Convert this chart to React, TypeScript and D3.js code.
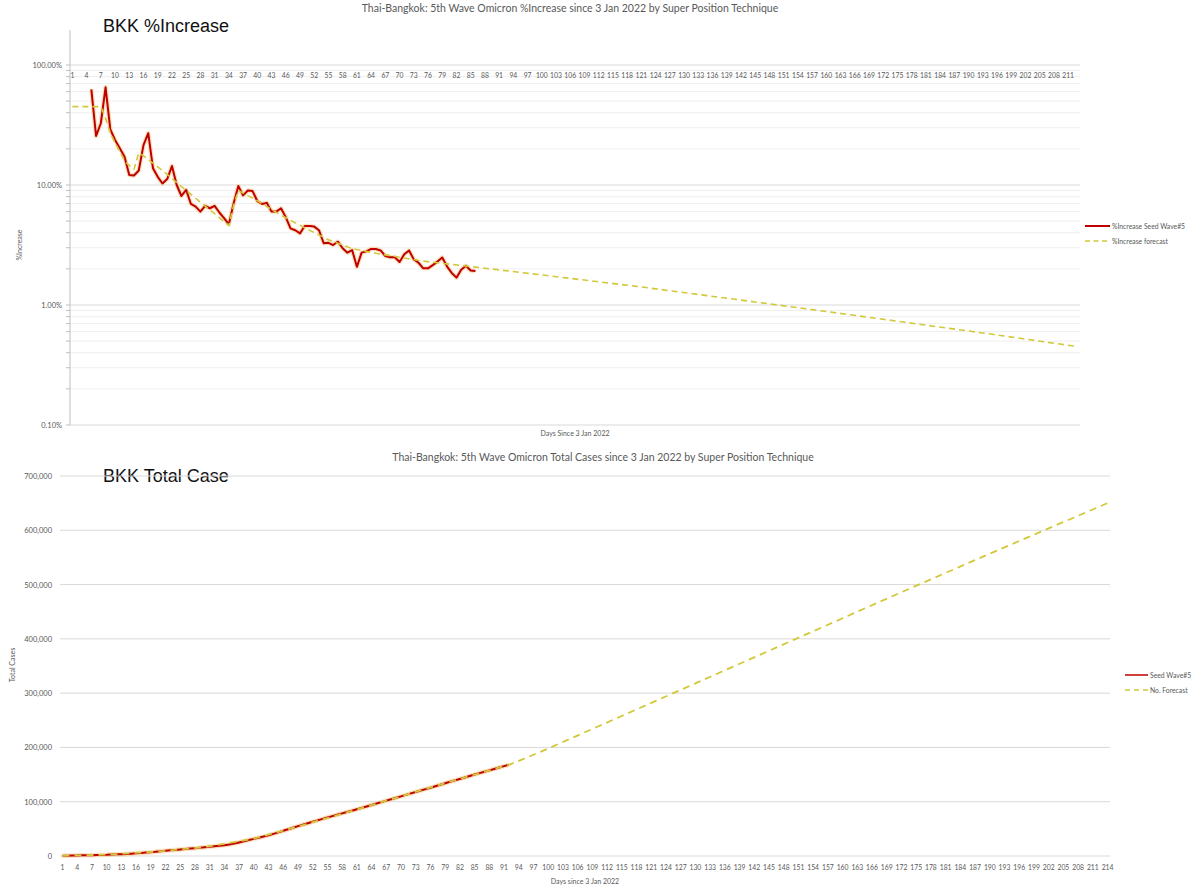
import React from "react";
import * as d3 from "d3";

// ---------- Top chart data (%Increase) ----------
const pctDays = d3.range(5, 87);
const pctValues = [
  62.7, 25.6, 32.7, 65.2, 29.1, 23.7, 20.2, 17.2, 12.1, 12.0,
  13.2, 21.5, 27.0, 13.8, 11.7, 10.3, 11.2, 14.4, 10.0, 8.1,
  9.1, 6.95, 6.6, 6.0, 6.7, 6.4, 6.7, 5.9, 5.3, 4.7,
  7.0, 9.8, 8.2, 9.0, 8.9, 7.35, 6.95, 7.1, 6.0, 6.0,
  6.4, 5.4, 4.35, 4.2, 3.95, 4.55, 4.55, 4.5, 4.2, 3.27,
  3.3, 3.16, 3.37, 2.97, 2.73, 2.87, 2.08, 2.73, 2.8, 2.93,
  2.93, 2.85, 2.56, 2.5, 2.5, 2.28, 2.65, 2.85, 2.4, 2.25,
  2.02, 2.02, 2.15, 2.3, 2.49, 2.1, 1.85, 1.69, 1.97, 2.12,
  1.94, 1.92,
];
const pctForecastDays = [1, 7, 8, 9, 10, 11, 12, 13, 14, 15, 16, 20, 25, 30, 34, 35, 36, 40, 45, 50, 55, 60, 65, 70, 75, 80, 86, 100, 120, 145, 170, 195, 213];
const pctForecastValues = [45, 45, 36, 27, 22.5, 19, 16, 14.5, 13.5, 18.5, 17.5, 13.2, 9.0, 6.2, 4.6, 6.8, 9.0, 7.4, 5.6, 4.4, 3.5, 2.95, 2.7, 2.5, 2.32, 2.2, 2.07, 1.78, 1.43, 1.06, 0.78, 0.57, 0.45];
const pctTickDays = d3.range(1, 212, 3);
const pctMajorTicks = [0.1, 1, 10, 100];
const pctTickLabels = ["0.10%", "1.00%", "10.00%", "100.00%"];

// ---------- Bottom chart data (Total cases) ----------
const caseDays = d3.range(1, 93);
const caseValuesK = [
  0.3, 0.5, 0.7, 1.0, 1.2, 1.4, 1.6, 1.8, 2.0, 2.2,
  2.6, 3.0, 3.4, 3.8, 4.3, 4.9, 5.6, 6.3, 7.0, 7.8,
  8.6, 9.5, 10.4, 11.2, 12.0, 12.8, 13.6, 14.4, 15.3, 16.2,
  17.1, 18.0, 18.9, 19.8, 21.2, 23.0, 25.0, 27.2, 29.4, 31.5,
  33.6, 35.8, 38.0, 40.8, 43.6, 46.4, 49.2, 52.0, 55.0, 57.6,
  60.3, 63.0, 65.7, 68.4, 71.0, 73.5, 76.0, 78.5, 81.0, 83.5,
  86.0, 88.6, 91.2, 93.9, 96.6, 99.3, 102.0, 104.6, 107.2, 109.9,
  112.6, 115.4, 118.0, 120.6, 123.2, 125.8, 128.5, 131.2, 134.0, 136.8,
  139.4, 142.0, 144.6, 147.3, 150.0, 152.6, 155.2, 157.8, 160.4, 163.0,
  165.5, 168.0,
];
const caseForecastDays = [1, 10, 20, 30, 40, 50, 60, 70, 80, 92, 95, 100, 110, 120, 130, 150, 170, 190, 214];
const caseForecastValuesK = [0.5, 2.4, 8.0, 16.3, 31.8, 57.0, 83.0, 110.0, 137.0, 168.0, 179.0, 198.0, 238.0, 278.0, 318.0, 398.0, 478.0, 557.0, 650.0];
const caseTickDays = d3.range(1, 215, 3);
const caseYTicks = [0, 100000, 200000, 300000, 400000, 500000, 600000, 700000];

const RED = "#c00000";
const YEL = "#d3c83a";
const TXT = "#595959";
const FONT = "Lato, 'Open Sans', sans-serif";

export default function App() {
  // top scales
  const xT = d3.scaleLinear().domain([0.5, 213.5]).range([70, 1080]);
  const yT = d3.scaleLog().domain([0.1, 100]).range([425, 65]);
  // bottom scales
  const xB = d3.scaleLinear().domain([0.5, 214.5]).range([60, 1110]);
  const yB = d3.scaleLinear().domain([0, 700000]).range([856, 476]);

  const minorVals: number[] = [];
  [0.1, 1, 10].forEach((dec) => {
    for (let k = 2; k <= 9; k++) minorVals.push(dec * k);
  });

  const lineT = d3.line<[number, number]>().x((d) => xT(d[0])).y((d) => yT(d[1]));
  const lineB = d3.line<[number, number]>().x((d) => xB(d[0])).y((d) => yB(d[1]));

  const pctData: [number, number][] = pctDays.map((d, i) => [d, pctValues[i]]);
  const pctFc: [number, number][] = pctForecastDays.map((d, i) => [d, pctForecastValues[i]]);
  const caseData: [number, number][] = caseDays.map((d, i) => [d, caseValuesK[i] * 1000]);
  const caseFc: [number, number][] = caseForecastDays.map((d, i) => [d, caseForecastValuesK[i] * 1000]);

  const fmt = d3.format(",");

  return (
    <svg width={1200} height={890} style={{ position: "absolute", left: 0, top: 0, background: "#fff" }} fontFamily={FONT}>
      <rect x={0} y={0} width={1200} height={890} fill="#fff" />

      {/* ===== TOP CHART ===== */}
      <text x={570} y={12} textAnchor="middle" fontSize={10.5} fill={TXT}>
        Thai-Bangkok: 5th Wave Omicron %Increase since 3 Jan 2022 by Super Position Technique
      </text>
      <text x={103} y={32} fontSize={18} fill="#111" fontFamily="'Liberation Sans', Arial, sans-serif">BKK %Increase</text>

      {/* minor gridlines */}
      {minorVals.map((v) => (
        <g key={"mn" + v}>
          <line x1={70} x2={1080} y1={yT(v)} y2={yT(v)} stroke="#efefef" strokeWidth={1} />
          <line x1={66} x2={70} y1={yT(v)} y2={yT(v)} stroke="#bfbfbf" strokeWidth={1} />
        </g>
      ))}
      {pctMajorTicks.map((v, i) => (
        <g key={"mj" + v}>
          <line x1={70} x2={1080} y1={yT(v)} y2={yT(v)} stroke="#d9d9d9" strokeWidth={1} />
          <line x1={66} x2={70} y1={yT(v)} y2={yT(v)} stroke="#bfbfbf" strokeWidth={1} />
          <text x={62} y={yT(v) + 3} textAnchor="end" fontSize={7.5} fill={TXT}>{pctTickLabels[i]}</text>
        </g>
      ))}
      <line x1={70} x2={70} y1={30} y2={425} stroke="#bfbfbf" strokeWidth={1} />
      {pctTickDays.map((d) => (
        <text key={"tx" + d} x={xT(d)} y={78} textAnchor="middle" fontSize={6.8} fill={TXT}>{d}</text>
      ))}
      <text x={575} y={436} textAnchor="middle" fontSize={7} fill={TXT}>Days Since 3 Jan 2022</text>
      <text transform={`translate(22,245) rotate(-90)`} textAnchor="middle" fontSize={7} fill={TXT}>%Increase</text>

      <path d={lineT(pctData) || ""} fill="none" stroke="#f6c88a" strokeWidth={4.5} strokeOpacity={0.55} strokeLinejoin="round" />
      <path d={lineT(pctData) || ""} fill="none" stroke={RED} strokeWidth={2} strokeLinejoin="round" />
      <path d={lineT(pctFc) || ""} fill="none" stroke={YEL} strokeWidth={1.6} strokeDasharray="6,4" strokeLinejoin="round" />

      {/* top legend */}
      <line x1={1085} x2={1110} y1={226} y2={226} stroke={RED} strokeWidth={2} />
      <text x={1112} y={228.5} fontSize={6.8} fill={TXT}>%Increase Seed Wave#5</text>
      <line x1={1085} x2={1110} y1={241} y2={241} stroke={YEL} strokeWidth={1.6} strokeDasharray="5,3.5" />
      <text x={1112} y={243.5} fontSize={6.8} fill={TXT}>%Increase forecast</text>

      {/* ===== BOTTOM CHART ===== */}
      <text x={603} y={461} textAnchor="middle" fontSize={10.5} fill={TXT}>
        Thai-Bangkok:  5th Wave Omicron Total Cases since 3 Jan 2022 by Super Position Technique
      </text>
      <text x={103} y={482} fontSize={18} fill="#111" fontFamily="'Liberation Sans', Arial, sans-serif">BKK Total Case</text>

      {caseYTicks.map((v) => (
        <g key={"cy" + v}>
          <line x1={60} x2={1110} y1={yB(v)} y2={yB(v)} stroke="#d9d9d9" strokeWidth={1} />
          <text x={52} y={yB(v) + 3} textAnchor="end" fontSize={7.5} fill={TXT}>{fmt(v)}</text>
        </g>
      ))}
      {caseTickDays.map((d) => (
        <text key={"bx" + d} x={xB(d)} y={870} textAnchor="middle" fontSize={6.8} fill={TXT}>{d}</text>
      ))}
      <text x={585} y={884} textAnchor="middle" fontSize={7} fill={TXT}>Days since 3 Jan 2022</text>
      <text transform={`translate(15,665) rotate(-90)`} textAnchor="middle" fontSize={7} fill={TXT}>Total Cases</text>

      <path d={lineB(caseData) || ""} fill="none" stroke="#f6c88a" strokeWidth={4.5} strokeOpacity={0.55} strokeLinejoin="round" />
      <path d={lineB(caseData) || ""} fill="none" stroke={RED} strokeWidth={2} strokeLinejoin="round" />
      <path d={lineB(caseFc) || ""} fill="none" stroke={YEL} strokeWidth={1.8} strokeDasharray="7,5" strokeLinejoin="round" />

      {/* bottom legend */}
      <line x1={1125} x2={1148} y1={675} y2={675} stroke={RED} strokeWidth={1.5} />
      <text x={1150} y={677.5} fontSize={6.8} fill={TXT}>Seed Wave#5</text>
      <line x1={1125} x2={1148} y1={690} y2={690} stroke={YEL} strokeWidth={1.6} strokeDasharray="5,4" />
      <text x={1150} y={692.5} fontSize={6.8} fill={TXT}>No. Forecast</text>
    </svg>
  );
}
